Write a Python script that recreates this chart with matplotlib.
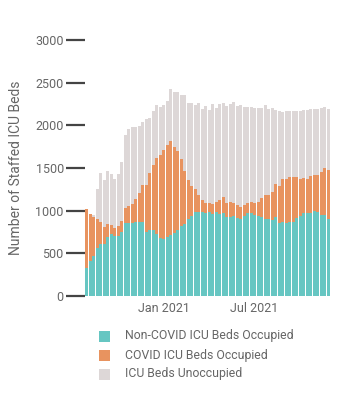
import matplotlib
matplotlib.use("Agg")
import matplotlib.pyplot as plt
import matplotlib.dates as mdates
from matplotlib.patches import Rectangle
import pandas as pd
import numpy as np

plt.rcParams['font.family'] = ['Roboto', 'DejaVu Sans']

weeks = pd.date_range("2020-08-01", periods=70, freq="7D")

non_covid = [332, 406, 469, 559, 613, 613, 687, 723, 703, 703,
             746, 851, 851, 851, 867, 867, 867, 754, 777, 777,
             727, 676, 672, 687, 719, 738, 777, 820, 848, 898,
             941, 988, 988, 980, 973, 988, 961, 984, 957, 969,
             922, 922, 934, 918, 898, 937, 969, 969, 949, 937,
             922, 906, 898, 891, 930, 851, 871, 855, 867, 863,
             918, 937, 969, 969, 977, 1000, 988, 949, 945, 902]
occupied_total = [1019, 961, 930, 902, 867, 808, 844, 832, 793, 816,
                  879, 1031, 1055, 1078, 1140, 1211, 1297, 1297, 1445, 1535,
                  1613, 1648, 1707, 1769, 1820, 1750, 1703, 1605, 1461, 1359,
                  1293, 1254, 1184, 1125, 1086, 1094, 1078, 1105, 1125, 1156,
                  1090, 1105, 1090, 1066, 1043, 1062, 1090, 1098, 1090, 1105,
                  1152, 1180, 1184, 1219, 1312, 1289, 1371, 1371, 1399, 1395,
                  1391, 1375, 1383, 1375, 1403, 1418, 1418, 1457, 1504, 1477]
staffed_total = [1019, 961, 949, 1254, 1445, 1359, 1465, 1430, 1371, 1430,
                 1570, 1883, 1957, 1980, 1980, 1988, 2043, 2070, 2082, 2168,
                 2238, 2219, 2238, 2289, 2422, 2390, 2394, 2351, 2351, 2262,
                 2262, 2238, 2258, 2191, 2227, 2180, 2250, 2203, 2250, 2262,
                 2227, 2250, 2270, 2227, 2238, 2219, 2219, 2219, 2207, 2207,
                 2207, 2234, 2195, 2199, 2180, 2168, 2160, 2168, 2168, 2168,
                 2172, 2164, 2176, 2176, 2187, 2191, 2191, 2203, 2211, 2187]

covid = np.array(occupied_total) - np.array(non_covid)
unocc = np.array(staffed_total) - np.array(occupied_total)

labels = ["Non-COVID ICU Beds Occupied", "COVID ICU Beds Occupied", "ICU Beds Unoccupied"]
colors = ["#66c6c2", "#e8935f", "#ddd7d7"]

fig = plt.figure(figsize=(3.4, 4.0), dpi=100)
ax = fig.add_axes([0.251, 0.26, 0.72, 0.64])

w = 6.0
ax.bar(weeks, non_covid, width=w, color=colors[0], linewidth=0)
ax.bar(weeks, covid, width=w, bottom=non_covid, color=colors[1], linewidth=0)
ax.bar(weeks, unocc, width=w, bottom=occupied_total, color=colors[2], linewidth=0)

ax.set_xlim(weeks[0] - pd.Timedelta(days=3.3), weeks[-1] + pd.Timedelta(days=3.3))
ax.set_ylim(0, 3000)
for s in ax.spines.values():
    s.set_visible(False)

ax.set_yticks([0, 500, 1000, 1500, 2000, 2500, 3000])
ax.tick_params(axis='y', length=14, width=1.6, color='#444444', pad=1.5,
               labelsize=9, labelcolor='#666666')
ax.set_xticks([pd.Timestamp("2021-01-01"), pd.Timestamp("2021-07-01")])
ax.xaxis.set_major_formatter(mdates.DateFormatter("%b %Y"))
ax.tick_params(axis='x', length=0, pad=4, labelsize=9, labelcolor='#666666')
for t in ax.get_yticklabels() + ax.get_xticklabels():
    t.set_clip_on(False)

ax.set_ylabel("Number of Staffed ICU Beds", fontsize=10, color='#666666')
ax.yaxis.set_label_coords(-0.255, 0.5)

# legend
ys = [336, 355, 374]
for y, c, lab in zip(ys, colors, labels):
    fig.add_artist(Rectangle((99 / 340, 1 - (y + 5.5) / 400), 11 / 340, 11 / 400,
                             transform=fig.transFigure, color=c, linewidth=0))
    fig.text(125 / 340, 1 - y / 400, lab, fontsize=8.8, color='#666666', va='center', ha='left')

fig.savefig("out.png", dpi=100)
